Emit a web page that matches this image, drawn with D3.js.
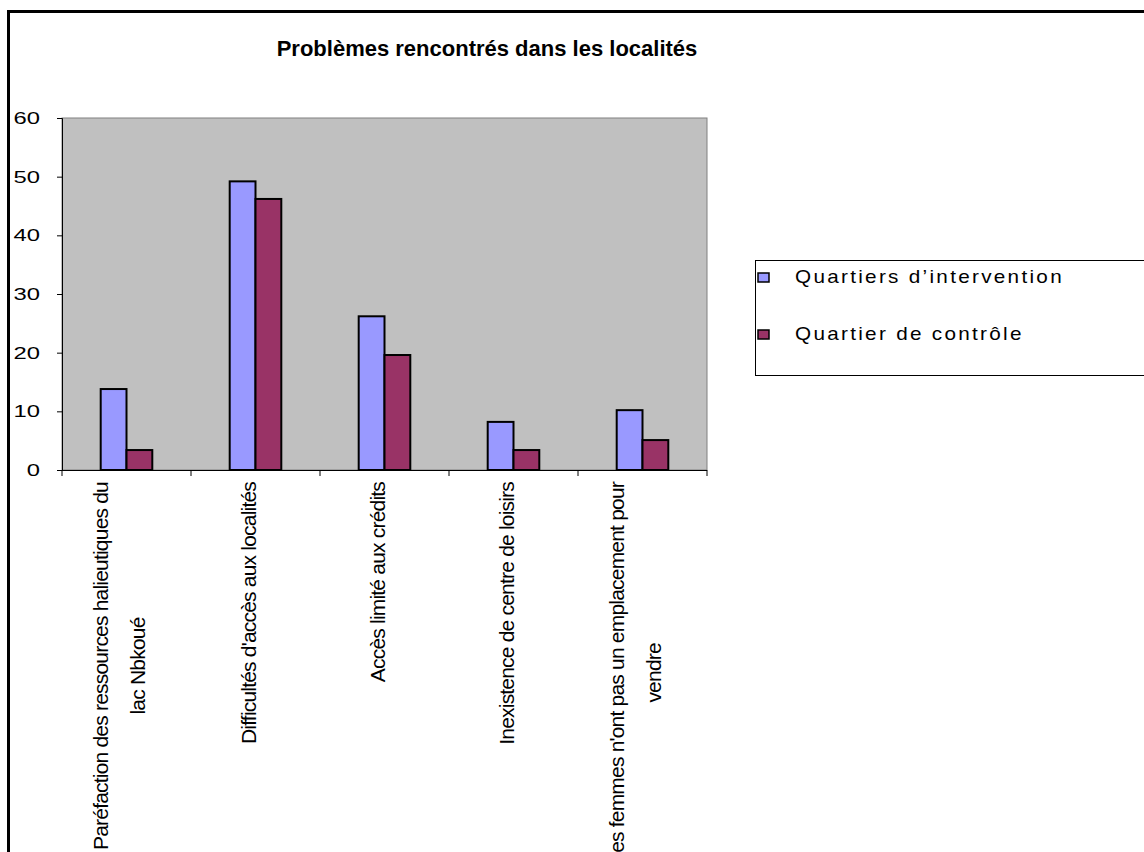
<!DOCTYPE html>
<html>
<head>
<meta charset="utf-8">
<script src="https://cdn.jsdelivr.net/npm/d3@7"></script>
<style>
  body { margin: 0; background: #fff; }
  svg { display: block; font-family: "Liberation Sans", Arial, sans-serif; }
</style>
</head>
<body>
<div id="chart"></div>
<script>
// categories (each entry = label lines)
let categories = [
    ["Paréfaction des ressources halieutiques du", "lac Nbkoué"],
    ["Difficultés d'accès aux localités"],
    ["Accès limité aux crédits"],
    ["Inexistence de centre de loisirs"],
    ["Les femmes n'ont pas un emplacement pour", "vendre"]
];
let seriesNames = ["Quartiers d\u2019intervention", "Quartier de contrôle"];
let intervention = [13.8, 49.2, 26.2, 8.2, 10.2];
let controle = [3.4, 46.2, 19.6, 3.4, 5.1];
let yTicks = [0, 10, 20, 30, 40, 50, 60];
let colors = ["#9999ff", "#993366"];

let W = 1144, H = 852;
let plot = {left: 62, top: 118, right: 707, bottom: 470};

let svg = d3.select("#chart").append("svg")
    .attr("width", W).attr("height", H);

// outer chart frame
svg.append("rect")
    .attr("x", 8.5).attr("y", 11.5)
    .attr("width", W + 20).attr("height", H + 20)
    .attr("fill", "#fff").attr("stroke", "#000").attr("stroke-width", 3);

// title
svg.append("text")
    .attr("x", 487).attr("y", 56)
    .attr("text-anchor", "middle")
    .style("font-size", "22px").style("font-weight", "bold")
    .text("Problèmes rencontrés dans les localités");

let x = d3.scaleBand()
    .domain(d3.range(categories.length))
    .range([plot.left, plot.right])
    .paddingInner(0.6).paddingOuter(0.3);

let y = d3.scaleLinear()
    .domain([0, 60])
    .range([plot.bottom, plot.top]);

// plot area
svg.append("rect")
    .attr("x", plot.left).attr("y", plot.top)
    .attr("width", plot.right - plot.left).attr("height", plot.bottom - plot.top)
    .attr("fill", "#c0c0c0").attr("stroke", "#808080").attr("stroke-width", 1);

// y axis (labels drawn wide, like the original)
let yAxis = svg.append("g")
    .attr("transform", "translate(" + plot.left + ",0)")
    .call(d3.axisLeft(y).tickValues(yTicks).tickSize(5));
yAxis.select(".domain").attr("stroke", "#000");
yAxis.selectAll("text")
    .attr("x", -22 / 1.4)
    .attr("transform", "scale(1.4,1)")
    .style("font-size", "17px")
    .style("font-family", "Liberation Sans, Arial, sans-serif").attr("fill", "#000");

// bars
let sub = d3.scaleBand().domain([0, 1]).range([0, x.bandwidth()]);
let seriesData = [intervention, controle];
seriesData.forEach(function(vals, s) {
    svg.selectAll(".bar" + s)
        .data(vals)
        .enter()
        .append("rect")
        .attr("class", "bar" + s)
        .attr("x", function(d, i) { return x(i) + sub(s); })
        .attr("y", function(d) { return y(d); })
        .attr("width", sub.bandwidth())
        .attr("height", function(d) { return y(0) - y(d); })
        .attr("fill", colors[s])
        .attr("stroke", "#000").attr("stroke-width", 2);
});

// x axis line + ticks at category boundaries
let step = (plot.right - plot.left) / categories.length;
svg.append("line")
    .attr("x1", plot.left).attr("x2", plot.right)
    .attr("y1", plot.bottom + 0.5).attr("y2", plot.bottom + 0.5)
    .attr("stroke", "#000");
svg.selectAll(".xtick")
    .data(d3.range(categories.length + 1))
    .enter().append("line")
    .attr("x1", function(d) { return plot.left + d * step; })
    .attr("x2", function(d) { return plot.left + d * step; })
    .attr("y1", plot.bottom).attr("y2", plot.bottom + 6)
    .attr("stroke", "#000");

// rotated category labels
let lineGap = 37;
let labelTop = 482;
categories.forEach(function(lines, i) {
    let cx = x(i) + x.bandwidth() / 2 - 6;
    let g = svg.append("g");
    let texts = lines.map(function(l, k) {
        return g.append("text")
            .attr("text-anchor", "middle")
            .style("font-size", "21px")
            .style("letter-spacing", "-0.8px")
            .text(l);
    });
    let maxLen = d3.max(texts, function(t) { return t.node().getComputedTextLength(); });
    let n = lines.length;
    texts.forEach(function(t, k) {
        let px = cx + (k - (n - 1) / 2) * lineGap + 6;
        let py = labelTop + maxLen / 2;
        t.attr("transform", "translate(" + px + "," + py + ") rotate(-90)");
    });
});

// legend
let lg = svg.append("g").attr("transform", "translate(755,260)");
lg.append("rect")
    .attr("x", 0.5).attr("y", 0.5).attr("width", 420).attr("height", 115)
    .attr("fill", "#fff").attr("stroke", "#000");
seriesNames.forEach(function(name, s) {
    lg.append("rect")
        .attr("x", 3).attr("y", 13 + s * 57)
        .attr("width", 11).attr("height", 9)
        .attr("fill", colors[s]).attr("stroke", "#000").attr("stroke-width", 1.5);
    lg.append("text")
        .attr("transform", "translate(40," + (23 + s * 57) + ") scale(1.15,1)")
        .style("font-size", "18px").style("letter-spacing", "2px")
        .text(name);
});
</script>
</body>
</html>
